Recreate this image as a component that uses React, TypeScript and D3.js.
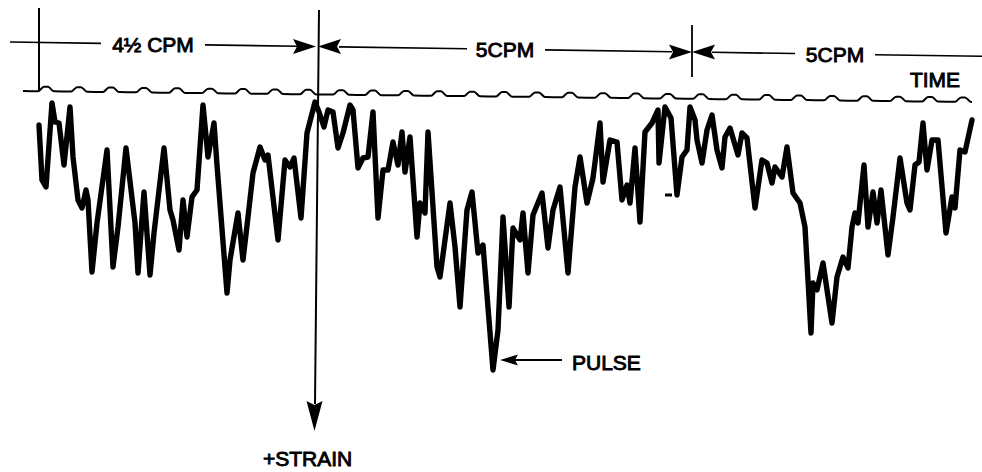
import React from 'react';
import * as d3 from 'd3';

// strip-chart trace: time along the strip, strain (down = +)
const traceTime = [
  0.0, 0.3, 0.7, 1.3, 1.6, 2.0, 2.5, 3.1, 3.4, 3.9, 4.3, 4.7, 4.9, 5.3, 5.8, 6.8, 7.4, 7.9, 8.7, 9.6,
  9.9, 10.5, 11.1, 11.5, 12.5, 13.1, 13.4, 14.0, 14.4, 14.8, 15.3, 15.8, 16.4, 16.9, 17.5, 17.8, 18.8, 19.1, 19.9, 20.4,
  20.9, 21.4, 22.1, 22.6, 22.9, 23.9, 24.6, 25.1, 25.5, 26.2, 26.8, 27.6, 28.0, 28.5, 28.9, 29.4, 29.9, 30.4, 31.1, 31.4,
  31.9, 32.4, 32.9, 33.4, 33.9, 34.4, 34.9, 35.4, 35.9, 36.3, 36.6, 37.1, 37.8, 38.1, 38.6, 38.9, 39.8, 40.1, 41.1, 41.6,
  42.1, 42.8, 43.3, 43.9, 44.4, 45.4, 45.9, 46.4, 47.0, 47.4, 48.1, 48.4, 48.9, 49.4, 50.3, 50.9, 51.4, 52.1, 52.9, 53.6,
  54.1, 54.8, 55.4, 56.1, 56.4, 57.1, 57.8, 58.3, 58.8, 59.1, 59.6, 60.1, 60.6, 61.3, 61.9, 62.0, 62.6, 63.2, 63.8, 64.3,
  64.8, 65.1, 65.6, 65.8, 66.3, 66.8, 67.3, 67.8, 68.3, 68.6, 69.1, 69.9, 70.3, 70.8, 71.6, 72.3, 72.8, 73.3, 73.6, 74.3,
  74.8, 75.4, 76.1, 76.6, 77.2, 77.4, 77.8, 78.4, 79.3, 79.8, 80.4, 80.9, 81.3, 81.6, 81.9, 82.5, 82.9, 83.4, 83.8, 84.2,
  84.9, 85.4, 86.1, 86.8, 87.1, 87.6, 88.0, 88.4, 88.8, 89.3, 89.9, 90.7, 91.3, 91.6, 92.1, 92.6, 93.3,
];
const traceStrain = [
  2.5, 8.0, 8.7, 0.3, 2.2, 2.3, 6.5, 0.7, 5.7, 10.0, 10.8, 9.0, 10.0, 17.2, 12.3, 5.0, 16.7, 12.7, 4.8, 12.3,
  17.3, 9.2, 17.5, 13.3, 4.8, 11.0, 12.0, 15.0, 10.0, 13.7, 9.7, 9.0, 0.5, 5.7, 2.3, 6.5, 19.3, 16.0, 11.3, 16.0,
  11.7, 7.3, 4.7, 6.0, 5.5, 14.0, 6.0, 6.7, 5.8, 11.8, 3.3, 0.2, 1.2, 2.7, 1.0, 1.2, 4.8, 3.3, 0.5, 1.0,
  6.8, 5.8, 5.7, 1.2, 11.8, 7.0, 7.0, 4.2, 6.5, 3.2, 7.2, 3.7, 13.7, 10.3, 11.3, 3.2, 16.7, 17.7, 10.3, 14.7,
  20.7, 11.0, 9.2, 15.3, 14.5, 27.0, 23.0, 11.7, 20.7, 12.8, 14.0, 11.3, 17.3, 11.5, 9.3, 14.8, 11.0, 8.7, 17.3, 8.7,
  5.7, 10.3, 7.8, 2.3, 8.2, 4.0, 4.2, 10.0, 8.5, 10.3, 4.8, 12.2, 3.2, 2.3, 1.0, 6.3, 0.7, 1.8, 9.5, 5.7,
  5.0, 0.7, 2.0, 4.0, 6.3, 3.0, 1.5, 5.0, 6.8, 3.7, 2.8, 5.5, 3.3, 3.8, 10.8, 6.0, 6.3, 8.3, 6.7, 7.7,
  4.7, 9.3, 10.3, 12.7, 23.3, 18.3, 19.0, 16.3, 22.3, 17.7, 15.7, 16.8, 12.7, 11.3, 12.3, 6.5, 12.7, 9.2, 12.3, 9.0,
  15.5, 11.7, 5.8, 10.3, 11.0, 6.5, 6.2, 2.3, 7.0, 4.0, 4.0, 13.3, 9.7, 10.8, 5.0, 5.2, 2.0,
];

// timing marks on the TIME line
const timeMarks = [
  0.7, 4.0, 7.2, 10.5, 13.8, 17.1, 20.4, 23.6, 26.9, 30.2, 33.4, 36.7, 40.0, 43.3, 46.5,
  49.8, 53.1, 56.4, 59.7, 62.9, 66.2, 69.5, 72.8, 76.0, 79.3, 82.6, 85.9, 89.1, 92.4,
];
const timeLineStart = -1.6;
const timeLineEnd = 93.3;
const timeLineLevel = [-0.9, 0.2];

// cycle boundaries and rates
const cycleMarks = [0, 27.8, 65.3];
const cycleLabels = ['4½ CPM', '5CPM', '5CPM'];
const pulseTime = 45.4;
const pulseStrain = 27.0;

const W = 982;
const H = 472;
const FONT = '"Liberation Sans", Arial, Helvetica, sans-serif';

export default function App() {
  const x = d3.scaleLinear().domain([0, 93.3]).range([39, 972]);
  const y = d3.scaleLinear().domain([0, 30]).range([100, 400]);

  const trace = traceTime.map((t, i) => [t, traceStrain[i]] as [number, number]);
  const line = d3
    .line<[number, number]>()
    .x(d => x(d[0]))
    .y(d => y(d[1]));

  // time line: slight tilt of the scan, a hump at each mark
  const base = d3.scaleLinear().domain([timeLineStart, timeLineEnd]).range(timeLineLevel);
  const tl: [number, number][] = [[timeLineStart, base(timeLineStart)]];
  timeMarks.forEach(m => {
    tl.push([m - 0.8, base(m - 0.8)]);
    tl.push([m - 0.2, base(m) - 0.45]);
    tl.push([m + 0.2, base(m) - 0.45]);
    tl.push([m + 0.8, base(m + 0.8)]);
  });
  tl.push([timeLineEnd, base(timeLineEnd)]);
  const tlLine = d3
    .line<[number, number]>()
    .x(d => x(d[0]))
    .y(d => y(d[1]))
    .curve(d3.curveMonotoneX);

  // dimension line across the top (tilted like the scan)
  const dimY = (px: number) => 42 + (px - 10) * 0.0147;
  const seg = (a: number, b: number) => `M${a},${dimY(a)}L${b},${dimY(b)}`;
  const arrowR = (tip: number) => {
    const yy = dimY(tip);
    return `M${tip},${yy}L${tip - 23},${yy - 7.5}L${tip - 19},${yy}L${tip - 23},${yy + 7.5}Z`;
  };
  const arrowL = (tip: number) => {
    const yy = dimY(tip);
    return `M${tip},${yy}L${tip + 23},${yy - 7.5}L${tip + 19},${yy}L${tip + 23},${yy + 7.5}Z`;
  };

  const m0 = x(cycleMarks[0]);
  const m1 = x(cycleMarks[1]);
  const m2 = x(cycleMarks[2]);

  const labelX = [153, 505, 835];
  const gaps = [
    [10, 101, 205, m1 - 20],
    [m1 + 22, 467, 545, m2 - 20],
    [m2 + 20, 795, 875, W],
  ];

  const px = x(pulseTime);
  const py = y(pulseStrain) - 10;

  const textStyle = { fontFamily: FONT, fontSize: 21, fill: '#000', stroke: '#000', strokeWidth: 0.9 };

  return (
    <svg width={W} height={H} style={{ position: 'absolute', left: 0, top: 0, background: '#fff' }}>
      <rect width={W} height={H} fill="#fff" />
      {/* cycle markers */}
      <line x1={m0} y1={8} x2={m0} y2={91} stroke="#000" strokeWidth={2} />
      <line x1={m1 + 2} y1={10} x2={m1 - 2} y2={404} stroke="#000" strokeWidth={2} />
      <path d={`M${m1 - 2.5},431L${m1 - 10.5},401L${m1 - 2.5},405L${m1 + 5.5},401Z`} fill="#000" />
      <line x1={m2} y1={25} x2={m2} y2={77} stroke="#000" strokeWidth={1.8} />

      {/* dimension lines */}
      {gaps.map((g, i) => (
        <g key={i}>
          <path d={seg(g[0], g[1]) + seg(g[2], g[3])} stroke="#000" strokeWidth={1.6} fill="none" />
          <text x={labelX[i]} y={dimY(labelX[i]) + 8} textAnchor="middle" style={textStyle}>
            {cycleLabels[i]}
          </text>
        </g>
      ))}
      <path d={arrowR(m1 - 1) + arrowL(m1 + 1) + arrowR(m2) + arrowL(m2)} fill="#000" />

      {/* TIME line */}
      <path d={tlLine(tl) || ''} fill="none" stroke="#000" strokeWidth={2} />
      <text x={935} y={87} textAnchor="middle" style={textStyle}>
        TIME
      </text>

      {/* strain trace */}
      <path
        d={line(trace) || ''}
        fill="none"
        stroke="#000"
        strokeWidth={5.4}
        strokeLinejoin="round"
        strokeLinecap="round"
      />
      <path d={`M${x(62.6)},${y(9.5)}h7`} stroke="#000" strokeWidth={3} />

      {/* pulse callout */}
      <path d={`M${px + 7},${py}L${px + 25},${py - 5.5}L${px + 22},${py}L${px + 25},${py + 5.5}Z`} fill="#000" />
      <line x1={px + 22} y1={py} x2={px + 69} y2={py} stroke="#000" strokeWidth={1.8} />
      <text x={572} y={370} style={textStyle}>
        PULSE
      </text>

      <text x={263} y={466} style={textStyle}>
        +STRAIN
      </text>
    </svg>
  );
}
